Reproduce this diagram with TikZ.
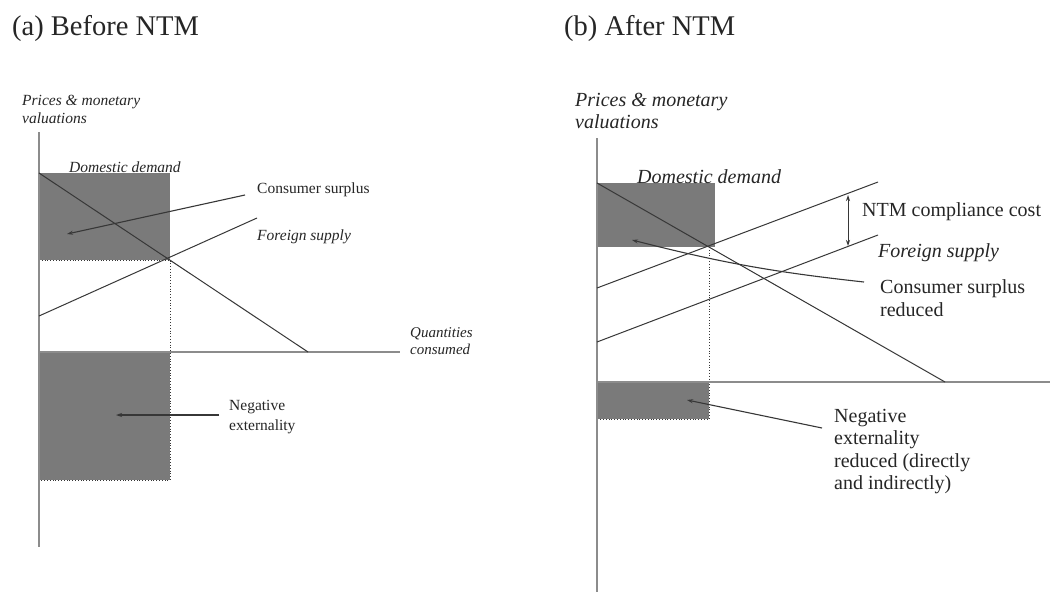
\documentclass[tikz,border=0pt]{standalone}
\usepackage{fontspec}
\setmainfont{Liberation Serif}
\usetikzlibrary{arrows.meta}
\definecolor{linec}{RGB}{55,55,55}
\definecolor{axisc}{RGB}{140,140,140}
\definecolor{shadec}{RGB}{122,122,122}
\tikzset{
  axisline/.style={draw=axisc, line width=1.2pt},
  curve/.style={draw=linec, line width=1pt},
  shadebox/.style={fill=shadec},
  dotline/.style={draw=linec, dotted, line width=0.8pt},
  pointer/.style={draw=linec, line width=1.1pt, -{Stealth[length=6pt,width=4pt]}},
  title/.style={font=\fontsize{28.5}{32}\selectfont, anchor=west, inner sep=0pt, text=black!85},
  smallit/.style={font=\fontsize{15.5}{18}\selectfont\itshape, anchor=west, inner sep=0pt, align=left, text=black!85},
  smallrm/.style={font=\fontsize{15.5}{20}\selectfont, anchor=west, inner sep=0pt, align=left, text=black!85},
  bigit/.style={font=\fontsize{20}{22}\selectfont\itshape, anchor=west, inner sep=0pt, align=left, text=black!85},
  bigrm/.style={font=\fontsize{20}{22.5}\selectfont, anchor=west, inner sep=0pt, align=left, text=black!85},
}
\begin{document}
\begin{tikzpicture}[x=1pt,y=-1pt]
\useasboundingbox[fill=white] (0,0) rectangle (1050,592);

% ---------------- (a) Before NTM ----------------
\node[title] (ta) at (12,28) {(a) Before NTM};
\coordinate (aTL) at (39,173);
\coordinate (aE) at (170,260);
\coordinate (aEx) at (39,260);
\coordinate (aQ) at (170,352);
\coordinate (aO) at (39,352);
\coordinate (aLB) at (170,480);
\coordinate (aLBx) at (39,480);
\coordinate (aYtop) at (39,132);
\coordinate (aYbot) at (39,547);
\coordinate (aXend) at (400,352);
\coordinate (aDend) at (308,352);
\coordinate (aS0) at (39,316);
\coordinate (aS1) at (257,218);

\fill[shadebox] (aTL) rectangle (aE);
\fill[shadebox] (aO) rectangle (aLB);
\draw[dotline] (aEx) -- (aE) -- (aQ) -- (aLB) -- (aLBx);
\draw[axisline] (aYtop) -- (aYbot);
\draw[axisline] (aO) -- (aXend);
\draw[curve] (aTL) -- (aDend);
\draw[curve] (aS0) -- (aS1);

\node[smallit] (aylab) at (22,109) {Prices \& monetary\\valuations};
\node[smallit] (adom) at (69,167) {Domestic demand};
\node[smallrm] (acs) at (257,190) {Consumer surplus};
\node[smallit] (afs) at (257,237) {Foreign supply};
\node[smallit, font=\fontsize{15}{17}\selectfont\itshape] (aqc) at (410,341.5) {Quantities\\consumed};
\node[smallrm] (ane) at (229,417) {Negative\\externality};

\coordinate (acsT) at (67,234);
\coordinate (aneT) at (116,415);
\draw[pointer] (acs.west) ++(-12,5) -- (acsT);
\draw[pointer] (ane.west) ++(-10,-2) -- (aneT);

% ---------------- (b) After NTM ----------------
\node[title] (tb) at (564,28) {(b) After NTM};
\coordinate (bTL) at (597,183);
\coordinate (bE) at (715,247);
\coordinate (bEd) at (709,247);
\coordinate (bQ) at (709,382);
\coordinate (bO) at (597,382);
\coordinate (bLB) at (709,419);
\coordinate (bLBx) at (597,419);
\coordinate (bYtop) at (597,138);
\coordinate (bYbot) at (597,592);
\coordinate (bXend) at (1050,382);
\coordinate (bDend) at (945,382);
\coordinate (bU0) at (597,288);
\coordinate (bU1) at (878,182);
\coordinate (bL0) at (597,342);
\coordinate (bL1) at (878,235);
\coordinate (bNa) at (848,195);
\coordinate (bNb) at (848,246);

\fill[shadebox] (bTL) rectangle (bE);
\fill[shadebox] (bO) rectangle (bLB);
\draw[dotline] (bEd) -- (bQ) -- (bLB) -- (bLBx);
\draw[axisline] (bYtop) -- (bYbot);
\draw[axisline] (bO) -- (bXend);
\draw[curve] (bTL) -- (bDend);
\draw[curve] (bU0) -- (bU1);
\draw[curve] (bL0) -- (bL1);
\draw[draw=linec, line width=1pt, {Stealth[length=6pt,width=4pt]}-{Stealth[length=6pt,width=4pt]}] (bNa) -- (bNb);

\node[bigit] (bylab) at (575,111) {Prices \& monetary\\valuations};
\node[bigit] (bdom) at (637,177) {Domestic demand};
\node[bigrm] (bntm) at (862,212) {NTM compliance cost};
\node[bigit] (bfs) at (878,253) {Foreign supply};
\node[bigrm] (bcs) at (880,298) {Consumer surplus\\reduced};
\node[bigrm] (bne) at (834,451.5) {Negative\\externality\\reduced (directly\\and indirectly)};

\coordinate (bcsS) at (864,282);
\coordinate (bcsT) at (632,240);
\coordinate (bneS) at (822,428);
\coordinate (bneT) at (687,400);
\draw[pointer] (bcsS) to[bend left=4] (bcsT);
\draw[pointer] (bneS) -- (bneT);
\end{tikzpicture}
\end{document}
